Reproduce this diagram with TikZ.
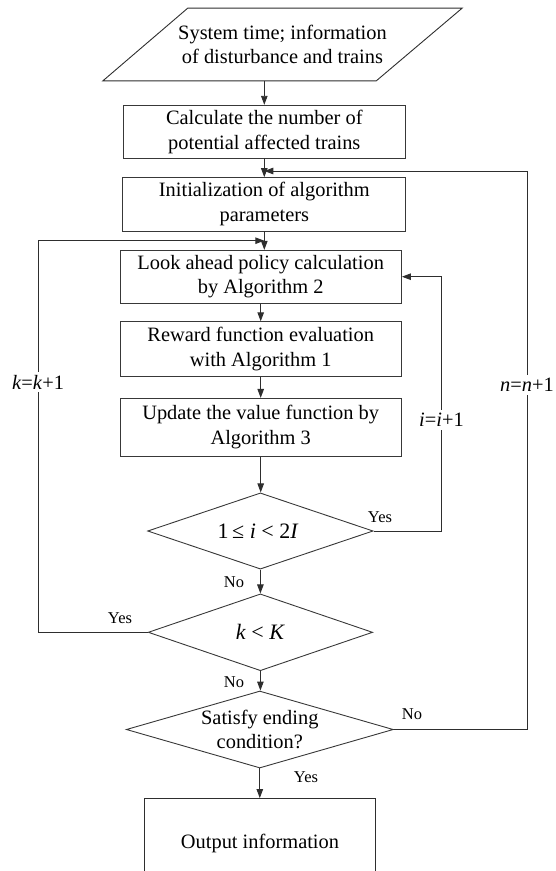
\documentclass[tikz,border=0pt]{standalone}
\usepackage{fontspec}
\setmainfont{Liberation Serif}
\usetikzlibrary{arrows.meta,calc,shapes.geometric}
\begin{document}
\begin{tikzpicture}[x=1pt,y=-1pt,
  line/.style={draw=black!82, line width=0.9pt},
  flow/.style={line, -{Triangle[length=9pt,width=6.5pt]}},
  box/.style={rectangle, draw=black!78, line width=0.9pt, align=center,
    inner sep=0pt, font=\fontsize{20.4}{24.8}\selectfont},
  decision/.style={diamond, draw=black!78, line width=0.9pt, inner sep=0pt},
  dtext/.style={align=center, inner sep=0pt, font=\fontsize{20.4}{24.5}\selectfont},
  mtext/.style={inner sep=0pt, font=\fontsize{22}{26}\selectfont},
  yn/.style={inner sep=0pt, font=\fontsize{16.5}{19}\selectfont},
  counter/.style={fill=white, inner sep=3pt, font=\fontsize{20.4}{24}\selectfont}
]
\useasboundingbox (0,0) rectangle (555,871);

% input parallelogram (text node sized to the outer extent)
\node[align=center, inner sep=0pt, minimum width=359, minimum height=72.4,
  font=\fontsize{20.4}{24.5}\selectfont] (inp) at (282.5,44.5)
  {System time; information\\of disturbance and trains};
\draw[line] (inp.south west) -- ($(inp.north west)+(85,0)$) -- (inp.north east)
  -- ($(inp.south east)-(86,0)$) -- cycle;

% process boxes
\node[box, minimum width=282.7, minimum height=52.7] (calc) at (264.3,131.6)
  {Calculate the number of\\potential affected trains};
\node[box, minimum width=283, minimum height=53.3] (init) at (264.3,204.3)
  {Initialization of algorithm\\parameters};
\node[box, minimum width=281.5, minimum height=52.7] (look) at (260.7,276.7)
  {Look ahead policy calculation\\by Algorithm 2};
\node[box, minimum width=281.5, minimum height=54.3] (reward) at (260.7,348.9)
  {Reward function evaluation\\with Algorithm 1};
\node[box, minimum width=281.5, minimum height=57.7] (update) at (260.7,427.2)
  {Update the value function by\\Algorithm 3};

% decisions
\node[decision, minimum width=225.4, minimum height=76.2] (d1) at (260.4,531) {};
\node[mtext] at (258,531) {1\,≤ \textit{i} < 2\textit{I}};
\node[decision, minimum width=224.4, minimum height=76.8] (d2) at (260.4,632.3) {};
\node[mtext] at (260.4,632.3) {\textit{k} < \textit{K}};
\node[decision, minimum width=267, minimum height=77] (d3) at (259.8,729.5) {};
\node[dtext] at (259.8,729.5) {Satisfy ending\\condition?};

% output box, open at the bottom of the page
\node[inner sep=0pt, minimum width=230, minimum height=90,
  font=\fontsize{20.4}{24.5}\selectfont] (out) at (260,843.3) {Output information};
\draw[line] (out.south west) -- (out.north west) -- (out.north east) -- (out.south east);

% join points of the loop-back arrows
\coordinate (nin) at (264.3,171);
\coordinate (kin) at (264.3,240.7);
\coordinate (nx) at (527,0);
\coordinate (kx) at (38,0);
\coordinate (ix) at (441.5,0);

% main flow
\draw[flow] (inp.south -| calc.north) -- (calc.north);
\draw[flow] (calc.south) -- (init.north);
\draw[flow] (init.south) -- (init.south |- look.north);
\draw[flow] (look.south) -- (look.south |- reward.north);
\draw[flow] (reward.south) -- (reward.south |- update.north);
\draw[flow] (update.south) -- (update.south |- d1.north);
\draw[flow] (d1.south) -- (d1.south |- d2.north);
\draw[flow] (d2.south) -- (d2.south |- d3.north);
\draw[flow] (d3.south) -- (d3.south |- out.north);

% loops
\draw[flow] (d1.east) -- (d1.east -| ix) -- (ix |- look.east) -- (look.east);
\draw[flow] (d2.west) -- (d2.west -| kx) -- (kx |- kin) -- (kin);
\draw[flow] (d3.east) -- (d3.east -| nx) -- (nx |- nin) -- (nin);

% loop counters
\node[counter] at (38,382) {\textit{k}=\textit{k}+1};
\node[counter] at (527,385) {\textit{n}=\textit{n}+1};
\node[counter] at (441.5,420) {\textit{i}=\textit{i}+1};

% branch labels
\node[yn] at (380,516.7) {Yes};
\node[yn] at (234,582) {No};
\node[yn] at (120,618.3) {Yes};
\node[yn] at (234,681.7) {No};
\node[yn] at (412,714) {No};
\node[yn] at (306,777.3) {Yes};
\end{tikzpicture}
\end{document}
